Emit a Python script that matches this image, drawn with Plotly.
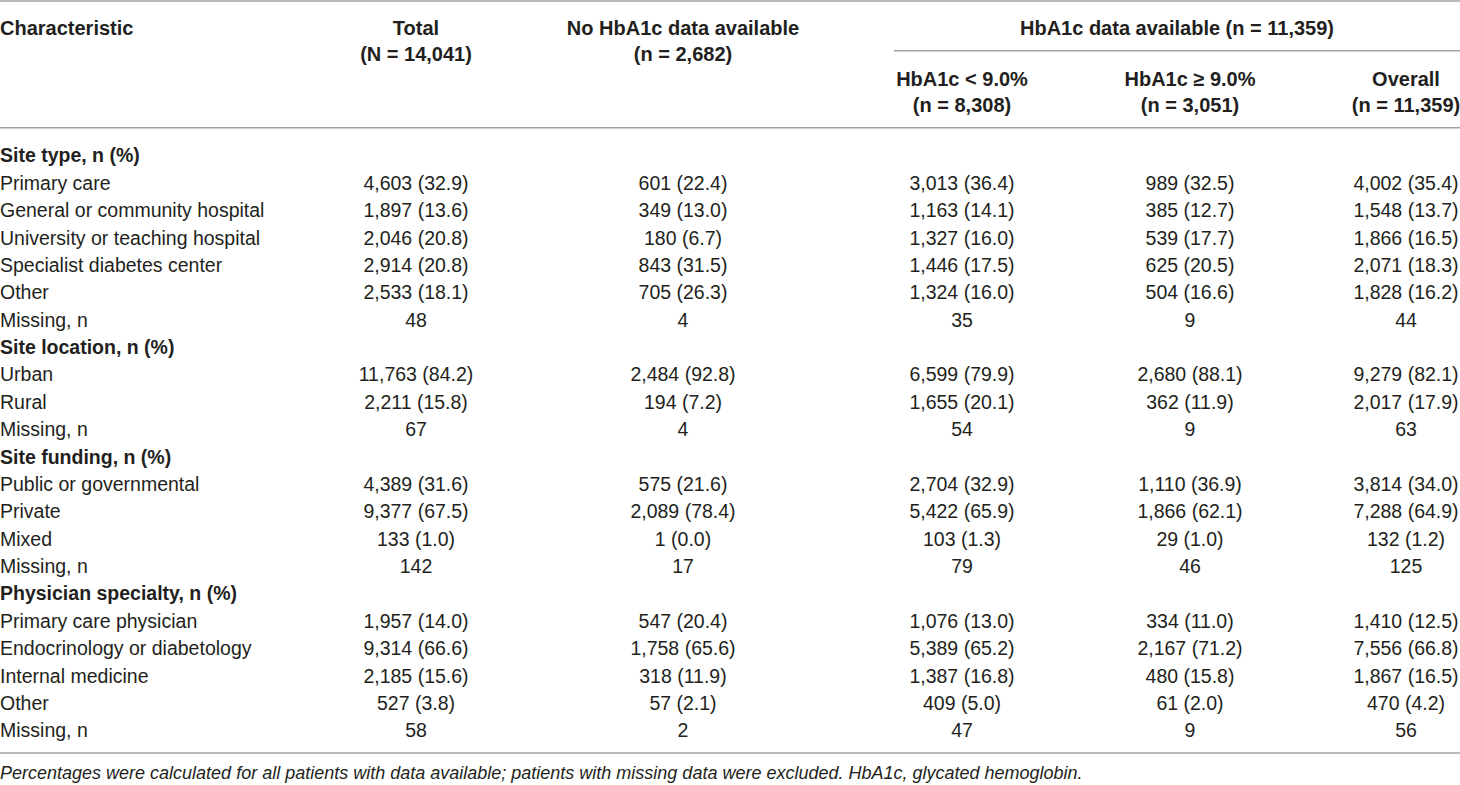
import plotly.graph_objects as go

# Table values
row_labels = [
    "Site type, n (%)", "Primary care", "General or community hospital",
    "University or teaching hospital", "Specialist diabetes center", "Other", "Missing, n",
    "Site location, n (%)", "Urban", "Rural", "Missing, n",
    "Site funding, n (%)", "Public or governmental", "Private", "Mixed", "Missing, n",
    "Physician specialty, n (%)", "Primary care physician", "Endocrinology or diabetology",
    "Internal medicine", "Other", "Missing, n",
]
section_rows = [0, 7, 11, 16]

total_n = [None, 4603, 1897, 2046, 2914, 2533, 48, None, 11763, 2211, 67,
           None, 4389, 9377, 133, 142, None, 1957, 9314, 2185, 527, 58]
total_pct = [None, 32.9, 13.6, 20.8, 20.8, 18.1, None, None, 84.2, 15.8, None,
             None, 31.6, 67.5, 1.0, None, None, 14.0, 66.6, 15.6, 3.8, None]

nodata_n = [None, 601, 349, 180, 843, 705, 4, None, 2484, 194, 4,
            None, 575, 2089, 1, 17, None, 547, 1758, 318, 57, 2]
nodata_pct = [None, 22.4, 13.0, 6.7, 31.5, 26.3, None, None, 92.8, 7.2, None,
              None, 21.6, 78.4, 0.0, None, None, 20.4, 65.6, 11.9, 2.1, None]

lt9_n = [None, 3013, 1163, 1327, 1446, 1324, 35, None, 6599, 1655, 54,
         None, 2704, 5422, 103, 79, None, 1076, 5389, 1387, 409, 47]
lt9_pct = [None, 36.4, 14.1, 16.0, 17.5, 16.0, None, None, 79.9, 20.1, None,
           None, 32.9, 65.9, 1.3, None, None, 13.0, 65.2, 16.8, 5.0, None]

ge9_n = [None, 989, 385, 539, 625, 504, 9, None, 2680, 362, 9,
         None, 1110, 1866, 29, 46, None, 334, 2167, 480, 61, 9]
ge9_pct = [None, 32.5, 12.7, 17.7, 20.5, 16.6, None, None, 88.1, 11.9, None,
           None, 36.9, 62.1, 1.0, None, None, 11.0, 71.2, 15.8, 2.0, None]

overall_n = [None, 4002, 1548, 1866, 2071, 1828, 44, None, 9279, 2017, 63,
             None, 3814, 7288, 132, 125, None, 1410, 7556, 1867, 470, 56]
overall_pct = [None, 35.4, 13.7, 16.5, 18.3, 16.2, None, None, 82.1, 17.9, None,
               None, 34.0, 64.9, 1.2, None, None, 12.5, 66.8, 16.5, 4.2, None]

col_titles = ["Total", "No HbA1c data available", "HbA1c < 9.0%", "HbA1c \u2265 9.0%", "Overall"]
col_sizes = ["(N = 14,041)", "(n = 2,682)", "(n = 8,308)", "(n = 3,051)", "(n = 11,359)"]
group_title = "HbA1c data available (n = 11,359)"
footnote = ("Percentages were calculated for all patients with data available; "
            "patients with missing data were excluded. HbA1c, glycated hemoglobin.")

# Layout (pixel-like axes)
W, H = 1460, 785
col_x = [416, 683, 962, 1190, 1406]
row_y0, row_step = 157.5, 27.38
dy = 2.5  # text sits a little high when centred
TXT = "#231f20"
LINE = "#a3a3a3"
FONT = "Liberation Sans, Arial, sans-serif"


def cell(n, p):
    if n is None:
        return ""
    if p is None:
        return f"{n:,}"
    return f"{n:,} ({p:.1f})"


row_y = [row_y0 + i * row_step for i in range(len(row_labels))]

fig = go.Figure()

# Row labels
fig.add_trace(go.Scatter(
    x=[0] * len(row_labels), y=row_y, mode="text",
    text=[f"<b>{t}</b>" if i in section_rows else t for i, t in enumerate(row_labels)],
    textposition="middle right",
    textfont=dict(family=FONT, size=19.5, color=TXT),
    hoverinfo="skip", showlegend=False,
))

# Data columns
columns = [(total_n, total_pct), (nodata_n, nodata_pct), (lt9_n, lt9_pct),
           (ge9_n, ge9_pct), (overall_n, overall_pct)]
for cx, (ns, ps) in zip(col_x, columns):
    fig.add_trace(go.Scatter(
        x=[cx] * len(ns), y=row_y, mode="text",
        text=[cell(n, p) for n, p in zip(ns, ps)],
        textposition="middle center",
        textfont=dict(family=FONT, size=19.5, color=TXT),
        hoverinfo="skip", showlegend=False,
    ))

# Header
hdr_font = dict(family=FONT, size=20, color=TXT)
fig.add_trace(go.Scatter(
    x=[0], y=[27 + dy], mode="text", text=["<b>Characteristic</b>"],
    textposition="middle right", textfont=hdr_font, hoverinfo="skip", showlegend=False,
))
hx, hy, ht = [], [], []
for i, (t, s) in enumerate(zip(col_titles, col_sizes)):
    top = (27 if i < 2 else 78) + dy
    hx += [col_x[i], col_x[i]]
    hy += [top, top + 26.5]
    ht += [f"<b>{t}</b>", f"<b>{s}</b>"]
hx.append((894 + W) / 2)
hy.append(27 + dy)
ht.append(f"<b>{group_title}</b>")
fig.add_trace(go.Scatter(
    x=hx, y=hy, mode="text", text=ht, textposition="middle center",
    textfont=hdr_font, hoverinfo="skip", showlegend=False,
))

# Footnote
fig.add_trace(go.Scatter(
    x=[0], y=[772 + dy], mode="text", text=[f"<i>{footnote}</i>"],
    textposition="middle right",
    textfont=dict(family=FONT, size=18, color=TXT),
    hoverinfo="skip", showlegend=False,
))

# Rules
for x0, y0 in [(0, 1), (894, 50.7), (0, 127.7), (0, 753)]:
    fig.add_shape(type="line", x0=x0, x1=W, y0=y0, y1=y0, xref="x", yref="y",
                  line=dict(color=LINE, width=1.6))

fig.update_xaxes(range=[0, W], visible=False, fixedrange=True)
fig.update_yaxes(range=[H, 0], visible=False, fixedrange=True)
fig.update_layout(
    width=W, height=H,
    margin=dict(l=0, r=0, t=0, b=0),
    plot_bgcolor="white", paper_bgcolor="white",
)

fig.write_html("out.html", config={"displayModeBar": False},
               post_script="document.body.style.margin='0';")
